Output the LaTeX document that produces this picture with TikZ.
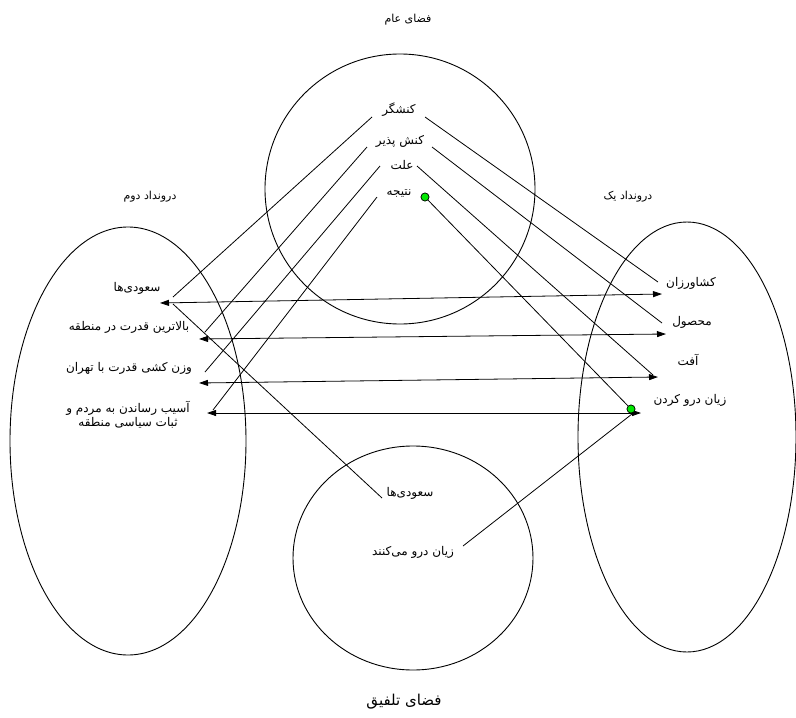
\documentclass[tikz,border=0pt]{standalone}
\usepackage{fontspec}
\usetikzlibrary{arrows.meta,shapes.geometric}
\newfontfamily\fa[Script=Arabic]{DejaVu Sans}
\TeXXeTstate=1
\newcommand{\rtl}[1]{\beginR #1\endR}
\begin{document}
\begin{tikzpicture}[x=1pt,y=-1pt,
  line width=0.8pt,
  lbl/.style={font=\fa\fontsize{12}{14}\selectfont, inner sep=1pt, align=center},
  ttl/.style={font=\fa\fontsize{11}{13}\selectfont, inner sep=1pt},
  space/.style={draw, ellipse, line width=0.9pt, inner sep=0pt},
  link/.style={draw, line width=0.8pt},
  dbl/.style={draw, line width=0.8pt, {Triangle[length=9pt,width=6pt]}-{Triangle[length=9pt,width=6pt]}},
  dot/.style={circle, draw, fill=green!85!black!60!green, minimum size=8pt, inner sep=0pt, line width=0.6pt}]
\useasboundingbox (0,0) rectangle (796,718);
% spaces
\node[space, minimum width=270pt, minimum height=270pt] (gen) at (400,189) {};
\node[space, minimum width=236pt, minimum height=428pt] (in2) at (128,441) {};
\node[space, minimum width=218pt, minimum height=430pt] (in1) at (687,437) {};
\node[space, minimum width=240pt, minimum height=224pt] (bl) at (413,558) {};
% titles
\node[ttl] (tgen) at (408,20) {\rtl{فضای عام}};
\node[ttl] (tin2) at (150,197) {\rtl{درونداد دوم}};
\node[ttl] (tin1) at (628,197) {\rtl{درونداد یک}};
\node[ttl, font=\fa\fontsize{15}{17}\selectfont] (tbl) at (404,702) {\rtl{فضای تلفیق}};
% generic space
\node[lbl] (g1) at (399,110) {\rtl{کنشگر}};
\node[lbl] (g2) at (400,141) {\rtl{کنش پذیر}};
\node[lbl] (g3) at (402,165) {\rtl{علت}};
\node[lbl] (g4) at (399,193) {\rtl{نتیجه}};
\node[dot] (gd) at (425,197) {};
% input 2
\node[lbl] (a1) at (137,288) {\rtl{سعودی‌ها}};
\node[lbl] (a2) at (129,327) {\rtl{بالاترین قدرت در منطقه}};
\node[lbl] (a3) at (129,368) {\rtl{وزن کشی قدرت با تهران}};
\node[lbl] (a4) at (128,415) {\rtl{آسیب رساندن به مردم و}\\\rtl{ثبات سیاسی منطقه}};
% input 1
\node[lbl] (b1) at (691,283) {\rtl{کشاورزان}};
\node[lbl] (b2) at (692,322) {\rtl{محصول}};
\node[lbl] (b3) at (688,360) {\rtl{آفت}};
\node[lbl] (b4) at (690,400) {\rtl{زیان درو کردن}};
\node[dot] (bd) at (631,409) {};
% blend
\node[lbl] (c1) at (410,493) {\rtl{سعودی‌ها}};
\node[lbl] (c2) at (413,552) {\rtl{زیان درو می‌کنند}};
% line end coordinates
\coordinate (g1l) at (372,117); \coordinate (g1r) at (425,117);
\coordinate (g2l) at (367,147); \coordinate (g2r) at (432,147);
\coordinate (g3l) at (380,166); \coordinate (g3r) at (417,166);
\coordinate (g4l) at (377,197);
\coordinate (a1e) at (173,297); \coordinate (a2e) at (205,332);
\coordinate (a3e) at (205,372); \coordinate (a4e) at (213,410);
\coordinate (b1e) at (658,282); \coordinate (b2e) at (662,323);
\coordinate (b3e) at (653,375);
\coordinate (a1h) at (160,303); \coordinate (b1h) at (662,294);
\coordinate (a2h) at (199,339); \coordinate (b2h) at (666,334);
\coordinate (a3h) at (199,383); \coordinate (b3h) at (658,377);
\coordinate (a4h) at (207,413); \coordinate (b4h) at (641,413);
\coordinate (a1s) at (173,304); \coordinate (c1e) at (382,498);
\coordinate (c2e) at (463,546); \coordinate (b4s) at (632,414);
% mappings generic -> input 2
\draw[link] (g1l) -- (a1e);
\draw[link] (g2l) -- (a2e);
\draw[link] (g3l) -- (a3e);
\draw[link] (g4l) -- (a4e);
% mappings generic -> input 1
\draw[link] (g1r) -- (b1e);
\draw[link] (g2r) -- (b2e);
\draw[link] (g3r) -- (b3e);
\draw[link] (gd) -- (bd);
% cross-space mappings
\draw[dbl] (a1h) -- (b1h);
\draw[dbl] (a2h) -- (b2h);
\draw[dbl] (a3h) -- (b3h);
\draw[dbl] (a4h) -- (b4h);
% projections to blend
\draw[link] (a1s) -- (c1e);
\draw[link] (c2e) -- (b4s);
\node[dot] at (gd) {};
\node[dot] at (bd) {};
\end{tikzpicture}
\end{document}
